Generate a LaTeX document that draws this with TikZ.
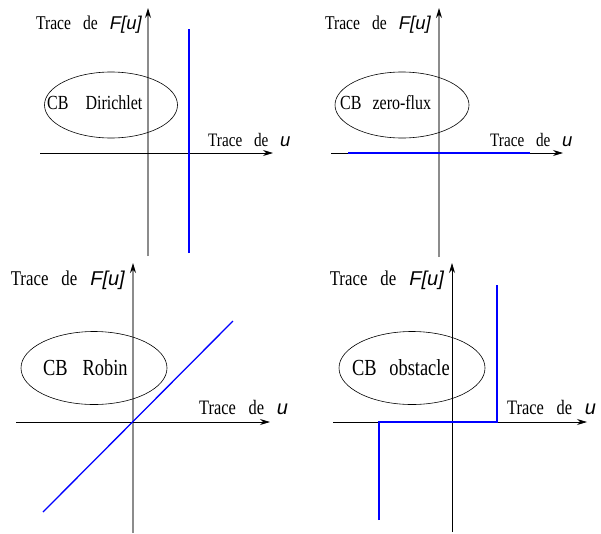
\documentclass[tikz,border=0pt]{standalone}
\usepackage{fontspec}
\setmainfont{Liberation Serif}[FakeStretch=0.8]
\setsansfont{Liberation Sans}
\usepackage{xcolor}
\definecolor{curveBlue}{HTML}{0000FF}
\definecolor{axisGray}{HTML}{8C8C8C}
\usepackage{tikz}
\usetikzlibrary{shapes.geometric, arrows.meta, positioning}

% axis labels: serif words, sans italic variable
\newcommand{\traceF}[2]{\fontsize{#1}{#1}\selectfont Trace\hspace{0.62em}de\hspace{0.62em}{\fontsize{#2}{#2}\selectfont\sffamily\itshape F[u]}}
\newcommand{\traceU}[2]{\fontsize{#1}{#1}\selectfont Trace\hspace{0.62em}de\hspace{0.62em}{\fontsize{#2}{#2}\selectfont\sffamily\itshape u}}

\begin{document}
\begin{tikzpicture}[
        x=1pt, y=-1pt,
        axisLine/.style={
            line width=0.8pt,
            -{Stealth[length=10pt, width=6pt, color=black]}
        },
        vertAxis/.style={
            axisLine,
            axisGray,
            line width=1.1pt
        },
        curveLine/.style={
            curveBlue,
            line width=1.3pt
        },
        bcEllipse/.style={
            draw,
            ellipse,
            line width=0.6pt,
            inner sep=0pt
        },
        labelNode/.style={
            inner sep=0pt
        }
    ]
    \useasboundingbox (0,0) rectangle (601,533);

    % Dirichlet
    \begin{scope}[shift={(148,153)}]
        \coordinate (d1Bot) at (0,103);
        \coordinate (d1Top) at (0,-145);
        \coordinate (h1Left) at (-108,0);
        \coordinate (h1Right) at (125,0);
        \coordinate (c1Low) at (41,100);
        \coordinate (c1High) at (41,-124);
        \draw[vertAxis] (d1Bot) -- (d1Top);
        \draw[axisLine] (h1Left) -- (h1Right);
        \draw[curveLine] (c1Low) -- (c1High);
        \node[bcEllipse, minimum width=133pt, minimum height=66pt] (ell1) at (-37,-48) {};
        \node[labelNode, anchor=west, font=\fontsize{20}{20}\selectfont] (bc1) at (-101,-50) {CB\hspace{0.85em}Dirichlet};
        \node[labelNode, anchor=east] (fLab1) at (-6,-128) {\traceF{19.5}{18.5}};
        \node[labelNode, anchor=west] (uLab1) at (60,-13) {\traceU{19}{18.5}};
    \end{scope}

    % zero-flux
    \begin{scope}[shift={(439,153)}]
        \coordinate (d2Bot) at (0,104);
        \coordinate (d2Top) at (0,-145);
        \coordinate (h2Left) at (-108,0);
        \coordinate (h2Right) at (124,0);
        \coordinate (c2Left) at (-91,0);
        \coordinate (c2Right) at (91,0);
        \draw[vertAxis] (d2Bot) -- (d2Top);
        \draw[axisLine] (h2Left) -- (h2Right);
        \draw[curveLine] (c2Left) -- (c2Right);
        \node[bcEllipse, minimum width=134pt, minimum height=66pt] (ell2) at (-37,-48) {};
        \node[labelNode, anchor=west, font=\fontsize{20}{20}\selectfont] (bc2) at (-99,-50) {CB\hspace{0.55em}zero-flux};
        \node[labelNode, anchor=east] (fLab2) at (-8,-128) {\traceF{19.5}{18.5}};
        \node[labelNode, anchor=west] (uLab2) at (51,-13) {\traceU{19}{18.5}};
    \end{scope}

    % Robin
    \begin{scope}[shift={(133,422)}]
        \coordinate (d3Bot) at (0,111);
        \coordinate (d3Top) at (0,-159);
        \coordinate (h3Left) at (-117,0);
        \coordinate (h3Right) at (137,0);
        \coordinate (c3Low) at (-90,90);
        \coordinate (c3High) at (100,-101);
        \draw[vertAxis] (d3Bot) -- (d3Top);
        \draw[axisLine] (h3Left) -- (h3Right);
        \draw[curveLine] (c3Low) -- (c3High);
        \node[bcEllipse, minimum width=146pt, minimum height=73pt] (ell3) at (-39,-54) {};
        \node[labelNode, anchor=west, font=\fontsize{23}{23}\selectfont] (bc3) at (-90,-54) {CB\hspace{0.65em}Robin};
        \node[labelNode, anchor=east] (fLab3) at (-8,-142) {\traceF{21}{20}};
        \node[labelNode, anchor=west] (uLab3) at (66,-15) {\traceU{20.5}{20}};
    \end{scope}

    % obstacle
    \begin{scope}[shift={(452,422)}]
        \coordinate (d4Bot) at (0,110);
        \coordinate (d4Top) at (0,-159);
        \coordinate (h4Left) at (-119,0);
        \coordinate (h4Right) at (135,0);
        \coordinate (c4Low) at (-73,98);
        \coordinate (c4Knee) at (-73,0);
        \coordinate (c4Step) at (45,0);
        \coordinate (c4High) at (45,-137);
        \draw[axisLine] (d4Bot) -- (d4Top);
        \draw[axisLine] (h4Left) -- (h4Right);
        \draw[curveLine] (c4Low) -- (c4Knee) -- (c4Step) -- (c4High);
        \node[bcEllipse, minimum width=146pt, minimum height=73pt] (ell4) at (-40,-54) {};
        \node[labelNode, anchor=west, font=\fontsize{23}{23}\selectfont] (bc4) at (-100,-54) {CB\hspace{0.55em}obstacle};
        \node[labelNode, anchor=east] (fLab4) at (-8,-142) {\traceF{21}{20}};
        \node[labelNode, anchor=west] (uLab4) at (55,-15) {\traceU{20.5}{20}};
    \end{scope}
\end{tikzpicture}
\end{document}
